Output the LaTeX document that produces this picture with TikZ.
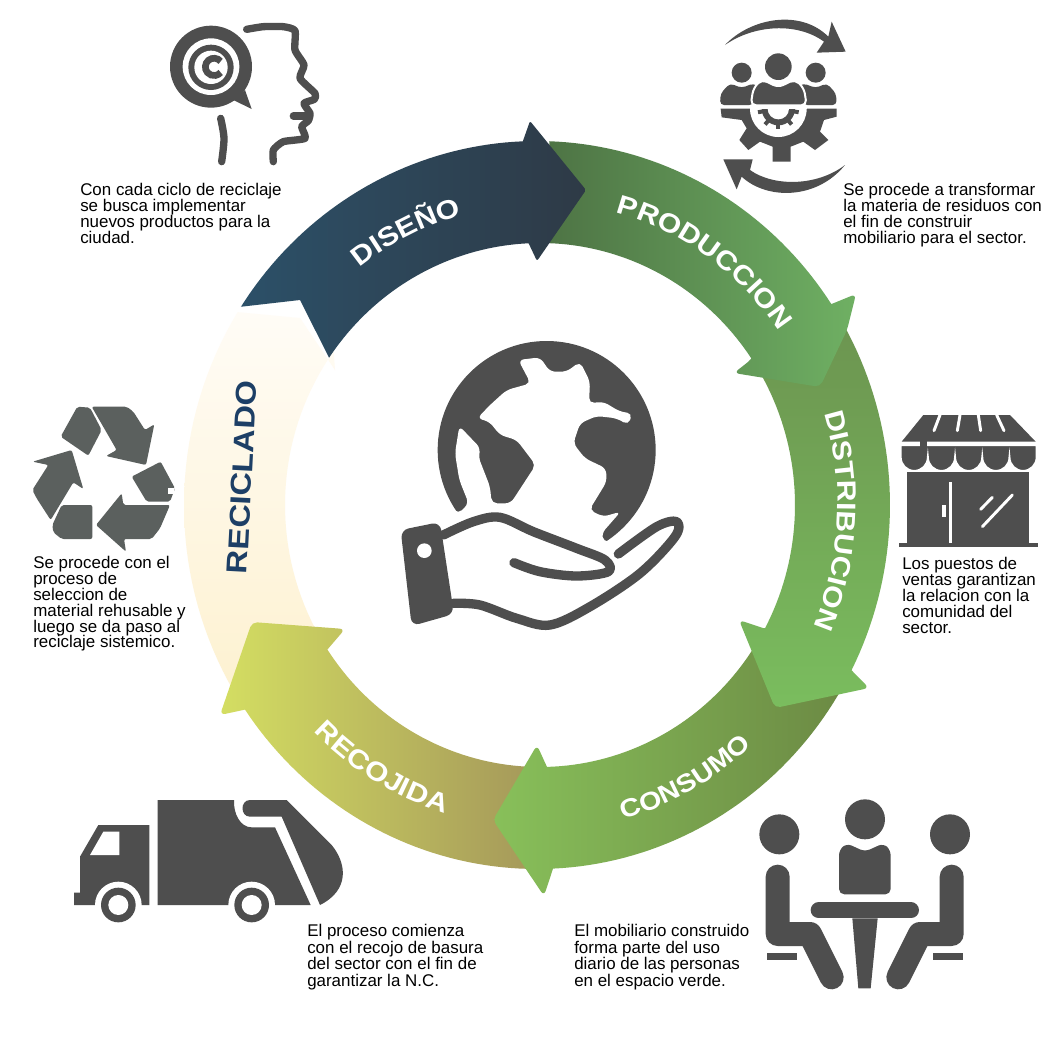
\documentclass[tikz,border=0pt]{standalone}
\usepackage{fontspec}
\usetikzlibrary{decorations.text}
\setmainfont{Liberation Sans}
\newfontfamily\ringfnt[FakeStretch=1.13]{Liberation Sans}
\newcommand{\ringw}{\ringfnt\bfseries\fontsize{20}{22}\selectfont\color{white}}
\newcommand{\ringc}{\ringfnt\bfseries\fontsize{19}{21}\selectfont\color{white}}
\definecolor{icondark}{HTML}{4E4E4E}
\definecolor{recycgrey}{HTML}{5B605E}
\definecolor{navytext}{HTML}{1D3F66}
\definecolor{creamA}{HTML}{FDF0CC}
\definecolor{creamB}{HTML}{FEF3D8}
\definecolor{creamC}{HTML}{FFFCF6}
\definecolor{recoA}{HTML}{D4DE62}
\definecolor{recoB}{HTML}{A4975A}
\definecolor{consA}{HTML}{88C05A}
\definecolor{consB}{HTML}{6C8A44}
\definecolor{distA}{HTML}{6C9450}
\definecolor{distB}{HTML}{7ABD5E}
\definecolor{prodA}{HTML}{4E7445}
\definecolor{prodB}{HTML}{6FB063}
\definecolor{disA}{HTML}{2C5068}
\definecolor{disB}{HTML}{2E3A46}
\tikzset{
  ringp/.style={samples=40},
  bodytxt/.style={anchor=north west,inner sep=0pt,align=left,text=black,font=\fontsize{12.7}{11.9}\selectfont},
  bodytxtwide/.style={bodytxt,font=\fontsize{12.7}{12.4}\selectfont},
  icon/.style={fill=icondark,draw=none},
  blank/.style={fill=white,draw=none},
  iconline/.style={draw=icondark,line cap=round,line join=round},
  whiteline/.style={draw=white,line cap=round},
  recyc/.style={fill=recycgrey,draw=none,rounded corners=1.5pt},
}
\begin{document}
\begin{tikzpicture}[x=0.75pt,y=-0.75pt,
  declare function={ox(\a)=537+353*cos(\a);oy(\a)=505-364*sin(\a);
    nx(\a)=540+255*cos(\a);ny(\a)=505-262*sin(\a);
    tx(\a,\r)=537+0.97*\r*cos(\a);ty(\a,\r)=505-\r*sin(\a);}]
\useasboundingbox (0,0) rectangle (1061,1036);
\fill[white] (0,0) rectangle (1061,1036);

% ---------- ring arrows, back to front
% RECICLADO
\shade[top color=creamC,middle color=creamB,bottom color=creamA]
  plot[ringp,domain=-140:-212] ({ox(\x)},{oy(\x)}) -- (300,318)
  -- (335,370) -- plot[ringp,domain=-216:-140] ({nx(\x)},{ny(\x)}) -- cycle;
% RECOJIDA
\shade[left color=recoA,right color=recoB]
  plot[ringp,domain=-90:-145.8] ({ox(\x)},{oy(\x)})
  [rounded corners=4pt] -- (220,715) -- (252,622) -- (345,629) [sharp corners] -- (327,650)
  -- plot[ringp,domain=-146.6:-90] ({nx(\x)},{ny(\x)}) -- cycle;
% CONSUMO
\shade[left color=consA,right color=consB]
  plot[ringp,domain=-30:-87.4] ({ox(\x)},{oy(\x)})
  [rounded corners=4pt] -- (544,896) -- (493,820) -- (537,745) [sharp corners] -- (547,767)
  -- plot[ringp,domain=-88.4:-30] ({nx(\x)},{ny(\x)}) -- cycle;
% DISTRIBUCION
\shade[top color=distA,bottom color=distB]
  plot[ringp,domain=31:-27] ({ox(\x)},{oy(\x)})
  [rounded corners=4pt] -- (869,688) -- (775,708) -- (739,620) [sharp corners] -- (763,628)
  -- plot[ringp,domain=-28:31] ({nx(\x)},{ny(\x)}) -- cycle;
% PRODUCCION
\shade[left color=prodA,right color=prodB]
  plot[ringp,domain=88:33.5] ({ox(\x)},{oy(\x)})
  [rounded corners=4pt] -- (856,294) -- (847,330) -- (820,387) -- (734,373) [sharp corners] -- (748,362)
  -- plot[ringp,domain=34:88] ({nx(\x)},{ny(\x)}) -- cycle;
% DISENO
\shade[left color=disA,right color=disB]
  plot[ringp,domain=147:92.3] ({ox(\x)},{oy(\x)})
  [rounded corners=1.5pt] -- (530,121) -- (586,190) -- (537,261) [sharp corners] -- (528,242)
  -- plot[ringp,domain=92.6:145.8] ({nx(\x)},{ny(\x)}) -- (300,300) -- cycle;

% ---------- ring labels
\path[decorate,decoration={text along path,text align=center,text={|\ringw|DISEÑO}}]
  plot[ringp,domain=156:76] ({tx(\x,300)},{ty(\x,300)});
\path[decorate,decoration={text along path,text align=center,text={|\ringw|PRODUCCION}}]
  plot[ringp,domain=100:10] ({tx(\x,304)},{ty(\x,304)});
\path[decorate,decoration={text along path,text align=center,text={|\ringw|DISTRIBUCION}}]
  plot[ringp,domain=42:-48] ({tx(\x,310)},{ty(\x,310)});
\path[decorate,decoration={text along path,text align=center,text={|\ringc|CONSUMO}}]
  plot[ringp,domain=-101:-21] ({tx(\x,327)},{ty(\x,327)});
\path[decorate,decoration={text along path,text align=center,text={|\ringw|RECOJIDA}}]
  plot[ringp,domain=-161:-81] ({tx(\x,323)},{ty(\x,323)});
\node[rotate=87,text=navytext,inner sep=0pt,font=\ringfnt\bfseries\fontsize{21.6}{24}\selectfont] (reciclado) at (242,477) {RECICLADO};

% ---------- body texts
\node[bodytxt] (tdiseno) at (80,183) {Con cada ciclo de reciclaje\\se busca implementar\\nuevos productos para la\\ciudad.};
\node[bodytxt] (tprod) at (843,183) {Se procede a transformar\\la materia de residuos con\\el fin de construir\\mobiliario para el sector.};
\node[bodytxt] (tdist) at (902,557) {Los puestos de\\ventas garantizan\\la relacion con la\\comunidad del\\sector.};
\node[bodytxtwide] (tcons) at (574,924) {El mobiliario construido\\forma parte del uso\\diario de las personas\\en el espacio verde.};
\node[bodytxtwide] (treco) at (307,924) {El proceso comienza\\con el recojo de basura\\del sector con el fin de\\garantizar la N.C.};
\node[bodytxt] (trecic) at (33,556) {Se procede con el\\proceso de\\seleccion de\\material rehusable y\\luego se da paso al\\reciclaje sistemico.};

% ---------- globe and hand
\begin{scope}[shift={(390,340)},x=0.25pt,y=-0.25pt]
  \fill[icon] (470,330) circle[radius=109*0.75pt];
  \fill[blank,rounded corners=4pt] (385,60) -- (450,52) -- (480,95) -- (530,95) -- (570,65) -- (600,125)
    -- (597,190) -- (640,185) -- (690,215) -- (727,220) -- (715,255) -- (680,235) -- (620,228) -- (570,250)
    -- (550,310) -- (585,355) -- (648,385) -- (650,425) -- (598,510) -- (640,530) -- (692,515) -- (635,580)
    -- (640,605) -- (668,606) -- (745,520) -- (830,600) -- (470,700) -- (120,600) -- (172,490) -- (205,522)
    -- (236,490) -- (208,420) -- (195,340) -- (208,258) -- (272,325) -- (265,350) -- (300,440) -- (305,490)
    -- (362,490) -- (437,375) -- (380,300) -- (330,285) -- (298,245) -- (262,235) -- (300,195) -- (350,150)
    -- (422,130) -- cycle;
  \fill[icon,rounded corners=6pt] (32,570) -- (150,546) -- (192,822) -- (65,858) -- cycle;
  \fill[blank] (103,632) circle[radius=22*0.25pt];
  \draw[iconline,line width=7pt] plot[smooth,tension=.55] coordinates {(160,585) (250,545) (330,532) (430,575) (560,625) (645,660) (655,695) (560,708) (450,695) (372,668)};
  \draw[iconline,line width=7pt] plot[smooth,tension=.55] coordinates {(190,790) (270,795) (380,835) (480,855) (600,800) (750,700) (855,590) (860,545) (800,560) (685,642)};
\end{scope}

% ---------- head with copyright bubble
\begin{scope}[shift={(150,10)},x=0.25pt,y=-0.25pt]
  \fill[icon] (183,170) circle[radius=123*0.25pt];
  \fill[icon] (250,270) -- (305,297) -- (285,240) -- cycle;
  \fill[blank] (183,170) circle[radius=85*0.25pt];
  \fill[icon] (183,172) circle[radius=68*0.25pt];
  \fill[blank] (183,172) circle[radius=50*0.25pt];
  \draw[icondark,line width=5pt] (212,154) arc[start angle=40,end angle=320,radius=6.5pt];
  \draw[iconline,line width=5.5pt] plot[smooth,tension=.35] coordinates {(290,58) (340,50) (400,50) (435,62) (435,120) (462,165) (450,205) (495,250) (493,268) (462,280) (480,310) (475,332) (455,350) (465,385) (400,395) (370,420) (370,455)};
  \draw[iconline,line width=5.5pt] (430,318) -- (478,318);
  \draw[iconline,line width=5.5pt] plot[smooth,tension=.5] coordinates {(212,325) (222,385) (215,455)};
\end{scope}

% ---------- people-gear
\begin{scope}[shift={(700,0)},x=0.25pt,y=-0.25pt]
  \fill[icon] (75,135) .. controls (150,55) and (300,25) .. (385,110) -- (395,65) -- (437,155) -- (350,158) -- (372,125) .. controls (290,65) and (160,75) .. (75,135) -- cycle;
  \fill[icon] (435,495) .. controls (350,560) and (220,560) .. (150,510) -- (158,478) -- (70,478) -- (110,568) -- (125,530) .. controls (200,600) and (350,600) .. (435,495) -- cycle;
  \fill[icon] (235,200) circle[radius=40*0.25pt];
  \fill[icon] (125,218) circle[radius=30*0.25pt];
  \fill[icon] (347,218) circle[radius=30*0.25pt];
  \fill[icon,rounded corners=3pt] (60,315) -- (62,280) -- (90,250) -- (125,264) -- (160,250) -- (180,262) -- (160,315) -- cycle;
  \fill[icon,rounded corners=3pt] (410,315) -- (408,280) -- (380,250) -- (347,264) -- (310,250) -- (290,262) -- (310,315) -- cycle;
  \path[fill=icondark,draw=white,line width=1.5pt,rounded corners=4pt] (152,316) -- (160,265) -- (185,238) -- (235,262) -- (285,238) -- (312,265) -- (320,316) -- cycle;
  \fill[icon] (62,326) -- (410,326) -- (410,350) -- (372,360) -- (360,395) -- (385,420) -- (345,450) -- (310,425) -- (272,440) -- (272,485) -- (218,485) -- (218,440) -- (180,425) -- (145,450) -- (118,420) -- (140,385) -- (125,360) -- (65,352) -- cycle;
  \fill[blank] (320,326) arc[start angle=0,end angle=-180,radius=85*0.25pt] -- cycle;
  \fill[icon] (285,326) arc[start angle=0,end angle=-180,radius=50*0.25pt] -- cycle;
  \foreach \ta in {-10,-50,-90,-130,-170} {
    \draw[icondark,line width=3pt] (235,326) -- ++(\ta:15.5pt);
  }
  \fill[blank] (267,326) arc[start angle=0,end angle=-180,radius=32*0.25pt] -- cycle;
  \fill[blank] (150,318) rectangle (320,326);
\end{scope}

% ---------- recycling
\begin{scope}[shift={(20,395)},x=0.25pt,y=-0.25pt]
  \fill[recyc] (172,35) -- (210,38) -- (245,105) -- (205,182) -- (122,125) -- cycle;
  \fill[recyc] (215,35) -- (320,35) -- (340,50) -- (375,105) -- (403,88) -- (378,210) -- (258,183) -- (290,165) -- cycle;
  \fill[recyc] (422,200) -- (465,280) -- (450,320) -- (380,320) -- (335,245) -- cycle;
  \fill[white] (443,280) rectangle (463,297);
  \fill[recyc] (450,330) -- (310,330) -- (305,295) -- (228,390) -- (318,470) -- (312,432) -- (395,432) -- (420,400) -- cycle;
  \fill[recyc] (125,330) -- (217,330) -- (217,432) -- (125,432) -- (100,412) -- (97,390) -- cycle;
  \fill[recyc] (155,165) -- (190,282) -- (160,262) -- (92,375) -- (50,310) -- (37,285) -- (85,210) -- (38,200) -- cycle;
\end{scope}

% ---------- truck
\begin{scope}[shift={(60,780)},x=0.25pt,y=-0.25pt]
  \fill[icon] (293,60) -- (522,60) .. controls (520,100) and (540,142) .. (575,142) -- (645,142) -- (752,375) -- (293,375) -- cycle;
  \fill[icon] (42,375) -- (42,338) -- (60,338) -- (60,230) -- (115,135) -- (268,135) -- (268,375) -- cycle;
  \fill[blank] (90,225) -- (130,155) -- (178,155) -- (178,225) -- cycle;
  \fill[icon] (570,60) -- (680,60) -- (815,195) .. controls (860,250) and (870,330) .. (780,375) -- (665,110) -- (570,110) .. controls (540,110) and (540,60) .. (570,60) -- cycle;
  \foreach \wx in {175,575} {
    \fill[blank] (\wx,375) circle[radius=70*0.25pt];
    \fill[icon] (\wx,375) circle[radius=52*0.25pt];
    \fill[blank] (\wx,375) circle[radius=30*0.25pt];
  }
\end{scope}

% ---------- table
\begin{scope}[shift={(750,790)},x=0.25pt,y=-0.25pt]
  \fill[icon] (88,133) circle[radius=60*0.25pt];
  \fill[icon] (345,88) circle[radius=60*0.25pt];
  \fill[icon] (600,133) circle[radius=60*0.25pt];
  \fill[icon,rounded corners=4pt] (267,313) -- (267,180) -- (290,160) -- (345,185) -- (400,160) -- (422,180) -- (422,313) -- cycle;
  \draw[iconline,line width=12pt] (206,361) -- (483,361);
  \fill[icon] (307,385) -- (383,385) -- (362,595) -- (325,595) -- cycle;
  \draw[iconline,line width=18pt] (83,260) -- (83,432) -- (180,432) -- (245,562);
  \draw[iconline,line width=18pt] (605,260) -- (605,432) -- (510,432) -- (445,562);
  \fill[icon] (50,490) rectangle (140,510);
  \fill[icon] (548,490) rectangle (638,510);
\end{scope}

% ---------- store
\begin{scope}[shift={(890,400)},x=0.25pt,y=-0.25pt]
  \fill[icon] (52,215) rectangle (417,432);
  \fill[icon] (28,430) rectangle (445,441);
  \fill[icon] (100,45) -- (360,45) -- (437,125) -- (35,125) -- cycle;
  \path[fill=icondark,draw=white,line width=1.5pt] (32,135) -- (440,135) -- (440,172)
    arc[start angle=0,end angle=-180,radius=10.2pt]
    arc[start angle=0,end angle=-180,radius=10.2pt]
    arc[start angle=0,end angle=-180,radius=10.2pt]
    arc[start angle=0,end angle=-180,radius=10.2pt]
    arc[start angle=0,end angle=-180,radius=10.2pt] -- cycle;
  \fill[white] (30,125) rectangle (442,136);
  \fill[icon] (90,122) rectangle (112,140);
  \draw[whiteline,line width=2.2pt] (150,45) -- (132,92);
  \draw[whiteline,line width=2.2pt] (210,45) -- (202,92);
  \draw[whiteline,line width=2.2pt] (265,45) -- (272,92);
  \draw[whiteline,line width=2.2pt] (320,45) -- (342,92);
  \draw[white,line width=2.2pt] (182,247) -- (182,430);
  \fill[white] (156,316) rectangle (167,350);
  \draw[whiteline,line width=2.2pt] (272,328) -- (307,292);
  \draw[whiteline,line width=2.2pt] (277,380) -- (367,285);
\end{scope}
\end{tikzpicture}
\end{document}
